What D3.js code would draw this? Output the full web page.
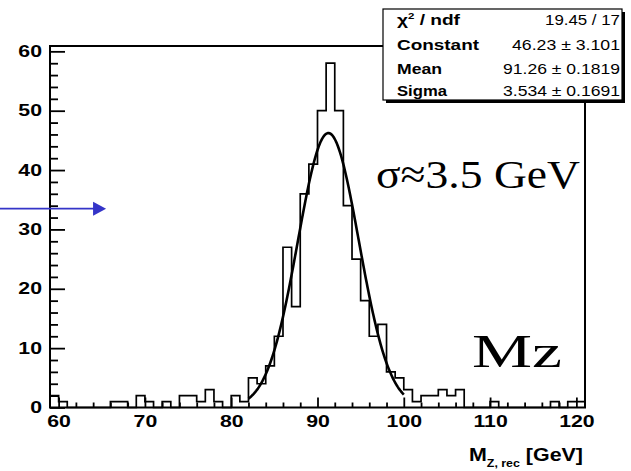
<!DOCTYPE html>
<html>
<head>
<meta charset="utf-8">
<script src="https://cdn.jsdelivr.net/npm/d3@7"></script>
<style>
    body { margin: 0; background: #fff; }
    svg { display: block; }
    text { font-family: "Liberation Sans", Arial, sans-serif; fill: #000; }
</style>
</head>
<body>
<div class="chart"></div>
<script>
// histogram: 1 GeV bins starting at 59 GeV, entries
var binStart = 59, binWidth = 1;
var counts = [
    2, 1, 0, 0, 0, 0, 0, 1, 1, 0,      // 59-68
    2, 1, 0, 1, 0, 2, 2, 1, 3, 1,      // 69-78
    0, 2, 1, 5, 4, 7, 12, 27, 17, 36,  // 79-88
    41, 50, 58, 50, 34, 25, 18, 12, 14, 6, // 89-98
    5, 3, 1, 2, 2, 3, 2, 3, 0, 0,      // 99-108
    0, 1, 0, 0, 0, 0, 0, 0, 1, 0,      // 109-118
    1, 1                               // 119-120
];

var xTicks = [60, 70, 80, 90, 100, 110, 120];
var xMinor = [62, 64, 66, 68, 72, 74, 76, 78, 82, 84, 86, 88, 92, 94, 96, 98, 102, 104, 106, 108, 112, 114, 116, 118];
var yTicks = [0, 10, 20, 30, 40, 50, 60];
var yMinor = [2, 4, 6, 8, 12, 14, 16, 18, 22, 24, 26, 28, 32, 34, 36, 38, 42, 44, 46, 48, 52, 54, 56, 58];

// gaus fit result (from the stats box) and its range
var fitConstant = 46.23, fitMean = 91.26, fitSigma = 3.534;
var fitRange = [82, 100];

var statsLabels = ["χ2 / ndf", "Constant", "Mean", "Sigma"];
var statsValues = ["19.45 / 17", "46.23 ± 3.101", "91.26 ± 0.1819", "3.534 ± 0.1691"];

// blue arrow, in data units
var arrow = { x0: 53.2, x1: 65.5, y: 33.5 };

var dim = {
    width: 631, height: 471,
    frame: { left: 50, top: 46, right: 585, bottom: 407.5 }
};

var x = d3.scaleLinear()
    .domain([binStart, binStart + counts.length * binWidth])
    .range([dim.frame.left, dim.frame.right]);

var y = d3.scaleLinear()
    .domain([0, 60.9])
    .range([dim.frame.bottom, dim.frame.top]);

var svg = d3.select(".chart").append("svg")
    .attr("width", dim.width)
    .attr("height", dim.height);

// histogram outline
var steps = counts.map(function(c, i) { return { e: binStart + i * binWidth, c: c }; });
steps.push({ e: binStart + counts.length * binWidth, c: counts[counts.length - 1] });

var histLine = d3.line()
    .x(function(d) { return x(d.e); })
    .y(function(d) { return y(d.c); })
    .curve(d3.curveStepAfter);

svg.append("path")
    .attr("class", "hist")
    .attr("d", "M" + x(binStart) + "," + y(0) + histLine(steps).replace(/^M/, "L") + "L" + x(steps[steps.length - 1].e) + "," + y(0))
    .attr("fill", "none")
    .attr("stroke", "#000")
    .attr("stroke-width", 1.7);

// fit function
var fitPts = d3.range(fitRange[0], fitRange[1] + 0.001, 0.1).map(function(v) {
    var z = (v - fitMean) / fitSigma;
    return { v: v, f: fitConstant * Math.exp(-0.5 * z * z) };
});

svg.append("path")
    .attr("class", "fit")
    .attr("d", d3.line().x(function(d) { return x(d.v); }).y(function(d) { return y(d.f); })(fitPts))
    .attr("fill", "none")
    .attr("stroke", "#000")
    .attr("stroke-width", 2.6);

// axes, ticks pointing into the frame
var xAxis = svg.append("g")
    .attr("class", "x axis")
    .attr("transform", "translate(0," + dim.frame.bottom + ")")
    .call(d3.axisBottom(x).tickValues(xTicks).tickSize(-10).tickPadding(8));
svg.append("g")
    .attr("transform", "translate(0," + dim.frame.bottom + ")")
    .call(d3.axisBottom(x).tickValues(xMinor).tickSize(-5).tickFormat(""));

var yAxis = svg.append("g")
    .attr("class", "y axis")
    .attr("transform", "translate(" + dim.frame.left + ",0)")
    .call(d3.axisLeft(y).tickValues(yTicks).tickSize(-15).tickPadding(6));
svg.append("g")
    .attr("transform", "translate(" + dim.frame.left + ",0)")
    .call(d3.axisLeft(y).tickValues(yMinor).tickSize(-8).tickFormat(""));

svg.selectAll(".domain").remove();
svg.selectAll(".tick line").attr("stroke", "#000").attr("stroke-width", 1.8);
svg.selectAll(".axis text")
    .attr("font-size", 16)
    .attr("font-weight", "bold")
    .attr("fill", "#222")
    .style("font-family", "'Liberation Sans', Arial, sans-serif");
// the original picture is stretched sideways
xAxis.selectAll("text").attr("transform", "scale(1.33,1)");
yAxis.selectAll("text").attr("transform", "scale(1.33,1)");

// frame
svg.append("rect")
    .attr("x", dim.frame.left)
    .attr("y", dim.frame.top)
    .attr("width", dim.frame.right - dim.frame.left)
    .attr("height", dim.frame.bottom - dim.frame.top)
    .attr("fill", "none")
    .attr("stroke", "#000")
    .attr("stroke-width", 2);

// x axis title
var title = svg.append("text")
    .attr("x", 583)
    .attr("y", 461)
    .attr("text-anchor", "end")
    .attr("font-weight", "bold")
    .attr("font-size", 19)
    .attr("fill", "#222")
    .attr("textLength", 114)
    .attr("lengthAdjust", "spacingAndGlyphs");
title.append("tspan").text("M");
title.append("tspan").attr("font-size", 11).attr("dy", 6).text("Z, rec");
title.append("tspan").attr("dy", -6).text(" [GeV]");

// stats box
var box = { x: 383, y: 9, w: 239, h: 91 };
svg.append("rect")
    .attr("x", box.x + 3).attr("y", box.y + 3)
    .attr("width", box.w).attr("height", box.h)
    .attr("fill", "#000");
svg.append("rect")
    .attr("x", box.x).attr("y", box.y)
    .attr("width", box.w).attr("height", box.h)
    .attr("fill", "#fff")
    .attr("stroke", "#000")
    .attr("stroke-width", 1.2);

var rowY = [25, 50, 74, 96];
var labelLen = [63, 82, 45, 50];
var valueLen = [75, 108, 117, 117];

statsLabels.forEach(function(s, i) {
    var t = svg.append("text")
        .attr("x", 397)
        .attr("y", rowY[i])
        .attr("font-size", 15)
        .attr("font-weight", "bold")
        .attr("fill", "#222")
        .attr("textLength", labelLen[i])
        .attr("lengthAdjust", "spacingAndGlyphs");
    if (i === 0) {
        t.append("tspan").text("χ");
        t.append("tspan").attr("font-size", 9).attr("dy", -6).text("2");
        t.append("tspan").attr("dy", 6).text(" / ndf");
    } else {
        t.text(s);
    }
});

statsValues.forEach(function(s, i) {
    svg.append("text")
        .attr("x", 620)
        .attr("y", rowY[i])
        .attr("text-anchor", "end")
        .attr("font-size", 15)
        .attr("fill", "#222")
        .attr("textLength", valueLen[i])
        .attr("lengthAdjust", "spacingAndGlyphs")
        .text(s);
});

// annotations
svg.append("text")
    .attr("x", 376)
    .attr("y", 188)
    .attr("font-size", 41)
    .attr("textLength", 204)
    .attr("lengthAdjust", "spacingAndGlyphs")
    .style("font-family", "'Liberation Serif', 'Times New Roman', serif")
    .text("σ≈3.5 GeV");

svg.append("text")
    .attr("x", 472)
    .attr("y", 367)
    .attr("font-size", 46)
    .attr("textLength", 90)
    .attr("lengthAdjust", "spacingAndGlyphs")
    .style("font-family", "'Liberation Serif', 'Times New Roman', serif")
    .text("Mz");

var ax0 = x(arrow.x0), ax1 = x(arrow.x1), ay = y(arrow.y);
svg.append("line")
    .attr("x1", ax0).attr("y1", ay)
    .attr("x2", ax1 - 12).attr("y2", ay)
    .attr("stroke", "#3434c8")
    .attr("stroke-width", 1.6);
svg.append("path")
    .attr("d", "M" + (ax1 - 13) + "," + (ay - 7) + "L" + ax1 + "," + ay + "L" + (ax1 - 13) + "," + (ay + 7) + "Z")
    .attr("fill", "#3434c8");
</script>
</body>
</html>
